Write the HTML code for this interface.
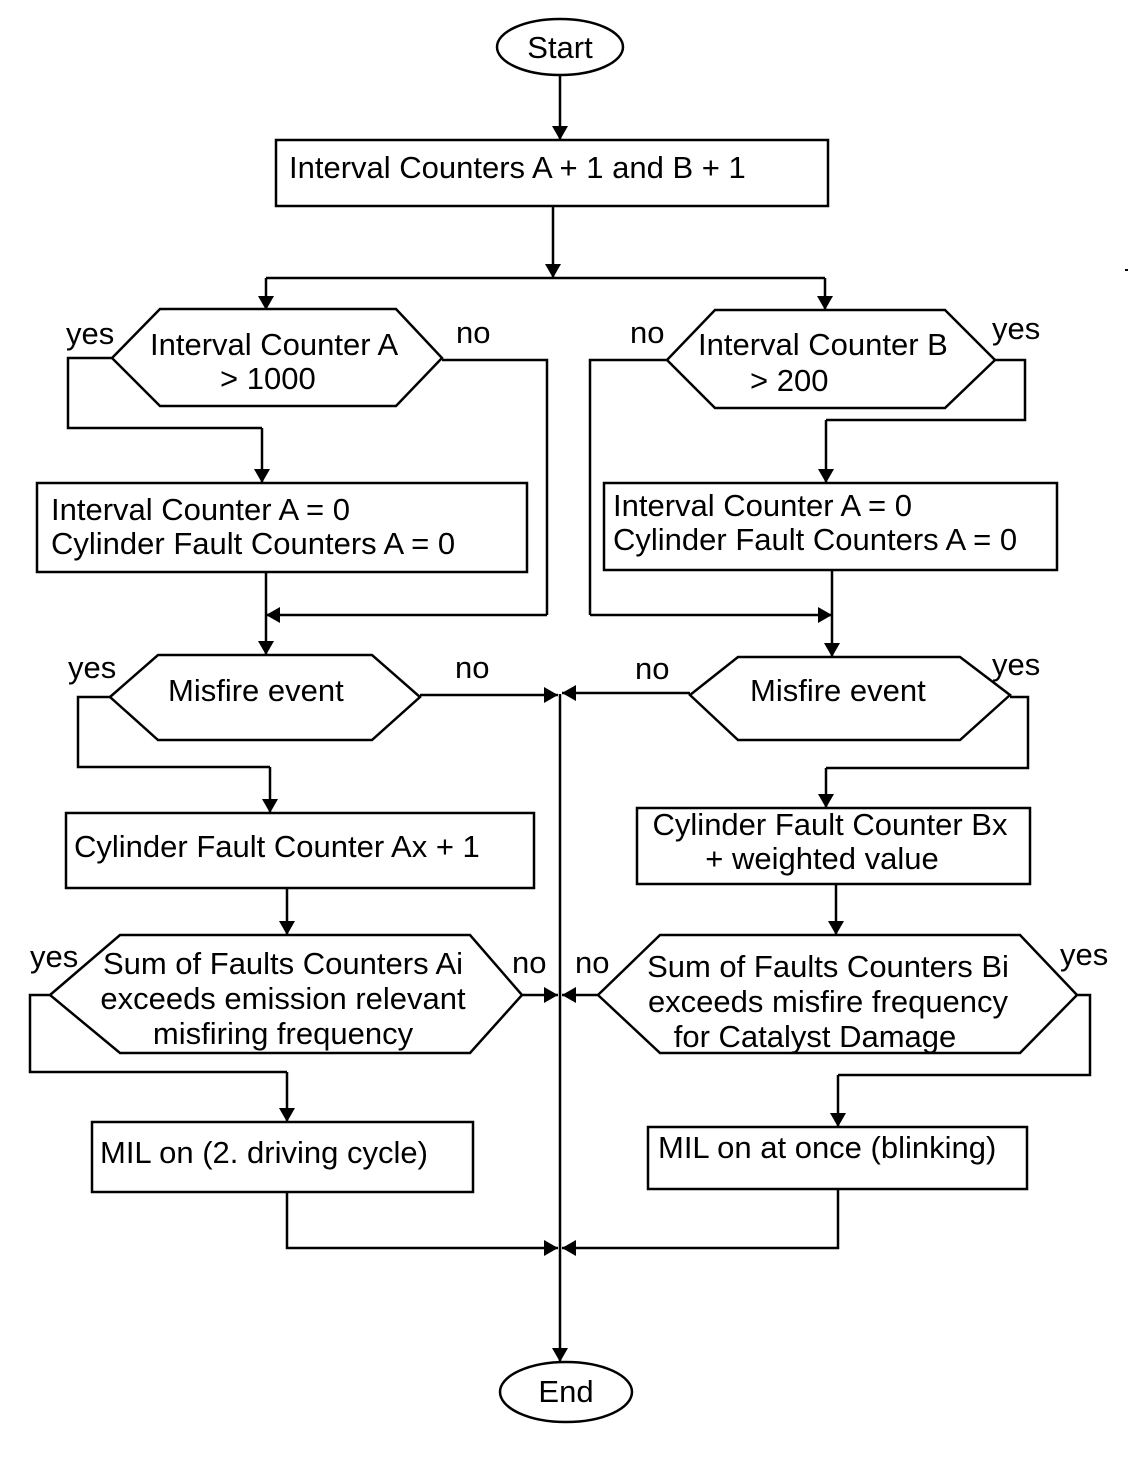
<!DOCTYPE html>
<html><head><meta charset="utf-8"><style>
html,body{margin:0;padding:0;background:#fff;}
svg{display:block;}
text{font-family:"Liberation Sans",Arial,sans-serif;font-size:31px;fill:#000;}
</style></head><body>
<svg width="1136" height="1458" viewBox="0 0 1136 1458" xmlns="http://www.w3.org/2000/svg">
<defs>
<marker id="a" markerWidth="14" markerHeight="24" refX="14" refY="12" orient="auto" markerUnits="userSpaceOnUse">
<path d="M0,4 L14,12 L0,20 Z" fill="#000"/></marker>
</defs>
<g fill="none" stroke="#000" stroke-width="2.5">
<ellipse cx="560" cy="47" rx="63" ry="28"/>
<line x1="560" y1="75" x2="560" y2="140" marker-end="url(#a)"/>
<rect x="276" y="140" width="552" height="66"/>
<line x1="553" y1="206" x2="553" y2="278" marker-end="url(#a)"/>
<polyline points="266,278 825,278"/>
<line x1="266" y1="278" x2="266" y2="310" marker-end="url(#a)"/>
<line x1="825" y1="278" x2="825" y2="310" marker-end="url(#a)"/>

<polygon points="112,358 160,309 396,309 442,358 396,406 160,406"/>
<polyline points="112,358 68,358 68,428 262,428"/>
<line x1="262" y1="428" x2="262" y2="483" marker-end="url(#a)"/>
<polyline points="442,360 547,360 547,615"/>
<line x1="547" y1="615" x2="266" y2="615" marker-end="url(#a)"/>
<rect x="37" y="483" width="490" height="89"/>
<line x1="266" y1="572" x2="266" y2="655" marker-end="url(#a)"/>

<polygon points="667,360 715,310 945,310 995,360 945,408 715,408"/>
<polyline points="995,360 1025,360 1025,420 826,420"/>
<line x1="826" y1="420" x2="826" y2="483" marker-end="url(#a)"/>
<polyline points="667,360 590,360 590,615"/>
<line x1="590" y1="615" x2="832" y2="615" marker-end="url(#a)"/>
<rect x="604" y="483" width="453" height="87"/>
<line x1="832" y1="570" x2="832" y2="657" marker-end="url(#a)"/>

<polygon points="110,697 158,655 372,655 420,697 372,740 158,740"/>
<polyline points="110,697 78,697 78,767 270,767"/>
<line x1="270" y1="767" x2="270" y2="813" marker-end="url(#a)"/>
<line x1="420" y1="695" x2="558" y2="695" marker-end="url(#a)"/>
<polygon points="690,695 738,657 960,657 1010,695 960,740 738,740"/>
<line x1="690" y1="693" x2="562" y2="693" marker-end="url(#a)"/>
<polyline points="1010,697 1028,697 1028,768 826,768"/>
<line x1="826" y1="768" x2="826" y2="808" marker-end="url(#a)"/>
<line x1="560" y1="694" x2="560" y2="1362" marker-end="url(#a)"/>

<rect x="66" y="813" width="468" height="75"/>
<rect x="637" y="808" width="393" height="76"/>
<line x1="287" y1="888" x2="287" y2="935" marker-end="url(#a)"/>
<line x1="836" y1="884" x2="836" y2="935" marker-end="url(#a)"/>

<polygon points="50,995 120,935 470,935 522,995 470,1053 120,1053"/>
<polyline points="50,995 30,995 30,1072 287,1072"/>
<line x1="287" y1="1072" x2="287" y2="1122" marker-end="url(#a)"/>
<line x1="522" y1="995" x2="558" y2="995" marker-end="url(#a)"/>
<polygon points="598,995 660,935 1020,935 1077,995 1020,1053 660,1053"/>
<line x1="598" y1="995" x2="562" y2="995" marker-end="url(#a)"/>
<polyline points="1077,995 1090,995 1090,1075 838,1075"/>
<line x1="838" y1="1075" x2="838" y2="1127" marker-end="url(#a)"/>

<rect x="92" y="1122" width="381" height="70"/>
<rect x="648" y="1127" width="379" height="62"/>
<polyline points="287,1192 287,1248 558,1248" marker-end="url(#a)"/>
<polyline points="838,1189 838,1248 562,1248" marker-end="url(#a)"/>
<ellipse cx="566" cy="1392" rx="66" ry="30"/>
</g>
<rect x="1125" y="269" width="3" height="2" fill="#000"/>

<text x="560" y="58" text-anchor="middle">Start</text>
<text x="289" y="178">Interval Counters A + 1 and B + 1</text>
<text x="150" y="355">Interval Counter A</text>
<text x="220" y="389">&gt; 1000</text>
<text x="66" y="344">yes</text>
<text x="456" y="343">no</text>
<text x="51" y="520">Interval Counter A = 0</text>
<text x="51" y="554">Cylinder Fault Counters A = 0</text>
<text x="698" y="355">Interval Counter B</text>
<text x="750" y="391">&gt; 200</text>
<text x="630" y="343">no</text>
<text x="992" y="339">yes</text>
<text x="613" y="516">Interval Counter A = 0</text>
<text x="613" y="550">Cylinder Fault Counters A = 0</text>
<text x="168" y="701">Misfire event</text>
<text x="68" y="678">yes</text>
<text x="455" y="678">no</text>
<text x="750" y="701">Misfire event</text>
<text x="635" y="679">no</text>
<text x="992" y="675">yes</text>
<text x="74" y="857">Cylinder Fault Counter Ax + 1</text>
<text x="830" y="835" text-anchor="middle">Cylinder Fault Counter Bx</text>
<text x="822" y="869" text-anchor="middle">+ weighted value</text>
<text x="283" y="974" text-anchor="middle">Sum of Faults Counters Ai</text>
<text x="283" y="1009" text-anchor="middle">exceeds emission relevant</text>
<text x="283" y="1044" text-anchor="middle">misfiring frequency</text>
<text x="30" y="967">yes</text>
<text x="512" y="973">no</text>
<text x="828" y="977" text-anchor="middle">Sum of Faults Counters Bi</text>
<text x="828" y="1012" text-anchor="middle">exceeds misfire frequency</text>
<text x="815" y="1047" text-anchor="middle">for Catalyst Damage</text>
<text x="575" y="973">no</text>
<text x="1060" y="965">yes</text>
<text x="100" y="1163">MIL on (2. driving cycle)</text>
<text x="658" y="1158">MIL on at once (blinking)</text>
<text x="566" y="1402" text-anchor="middle">End</text>
</svg>
</body></html>
